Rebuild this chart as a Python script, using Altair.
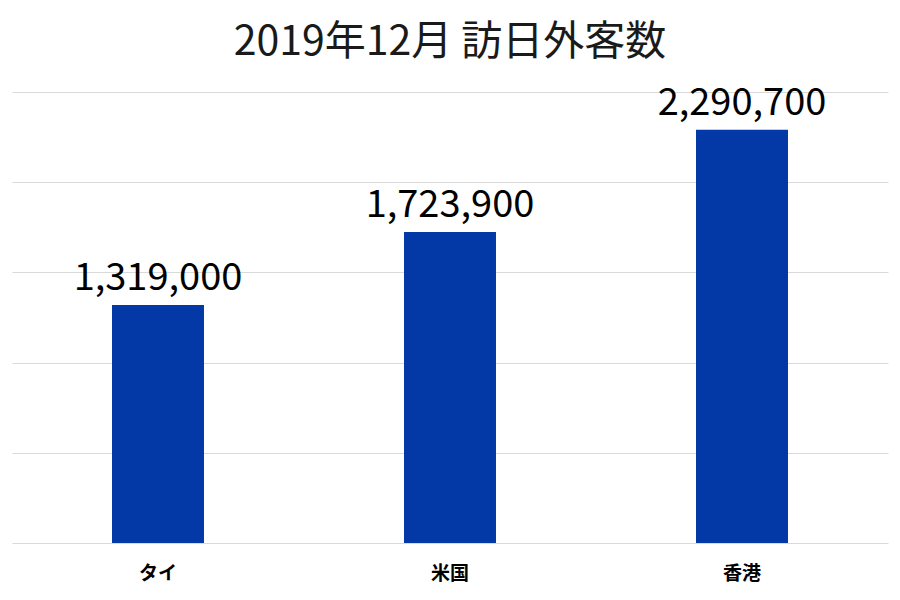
import altair as alt
import pandas as pd

countries = ["タイ", "米国", "香港"]
visitors = [1319000, 1723900, 2290700]
grid_values = [0, 500000, 1000000, 1500000, 2000000, 2500000]

FONT = "Noto Sans CJK JP"

df = pd.DataFrame({"country": countries, "visitors": visitors})

base = alt.Chart(df).encode(
    x=alt.X(
        "country:N",
        sort=countries,
        title="",
        scale=alt.Scale(paddingInner=0.685, paddingOuter=0.3425),
        axis=alt.Axis(
            labelAngle=0, labelFontSize=19, labelFontWeight="bold",
            labelColor="#000000", labelFont=FONT, labelPadding=21,
            ticks=False, domain=False, grid=False,
        ),
    ),
    y=alt.Y(
        "visitors:Q",
        title="",
        scale=alt.Scale(domain=[0, 2500000], nice=False),
        axis=alt.Axis(
            values=grid_values, labels=False, ticks=False, domain=False,
            grid=True, gridColor="#d9d9d9", gridWidth=1.2,
        ),
    ),
)

bars = base.mark_bar(color="#0339A6")

labels = base.mark_text(
    dy=-15, baseline="alphabetic", fontSize=38, font=FONT, color="#000000"
).encode(text=alt.Text("visitors:Q", format=",.0f"))

chart = alt.layer(bars, labels).properties(
    width=876,
    height=451,
    autosize=alt.AutoSizeParams(type="none"),
    padding={"left": 4, "top": 84, "right": 4, "bottom": 50},
    title=alt.TitleParams(
        "2019年12月 訪日外客数", font=FONT, fontSize=41, fontWeight="normal",
        color="#1a1a1a", offset=21, anchor="middle",
    ),
).configure_view(stroke=None)

chart.save("out.html", embed_options={"renderer": "svg", "actions": False})
